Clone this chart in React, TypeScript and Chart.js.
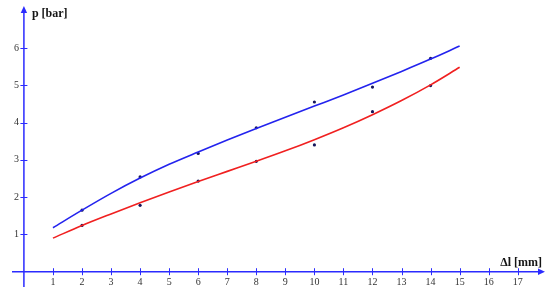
import React, { useEffect, useRef } from "react";
import { Chart, registerables } from "chart.js";

Chart.register(...registerables);

// Fitted curves
const xFit = [1, 2, 3, 4, 5, 6, 7, 8, 9, 10, 11, 12, 13, 14, 15];
const blueFit = [1.18, 1.65, 2.1, 2.51, 2.88, 3.21, 3.53, 3.84, 4.14, 4.44, 4.74, 5.05, 5.37, 5.7, 6.05];
const redFit = [0.9, 1.24, 1.55, 1.85, 2.14, 2.42, 2.69, 2.96, 3.24, 3.54, 3.86, 4.21, 4.59, 5.01, 5.48];

// Measured points
const xMeas = [2, 4, 6, 8, 10, 12, 14];
const blueMeas = [1.65, 2.54, 3.17, 3.86, 4.55, 4.95, 5.72];
const redMeas = [1.24, 1.78, 2.43, 2.96, 3.4, 4.29, 4.99];

const xTicks = [1, 2, 3, 4, 5, 6, 7, 8, 9, 10, 11, 12, 13, 14, 15, 16, 17];
const yTicks = [1, 2, 3, 4, 5, 6];
const xTitle = "Δl [mm]";
const yTitle = "p [bar]";

const AXIS = "#2b2bff";
const BLUE = "#2323ee";
const RED = "#f02020";
const DOT = "#16165c";
const SERIF = "'Liberation Serif', 'DejaVu Serif', serif";

const axesPlugin = {
  id: "customAxes",
  beforeDatasetsDraw(chart: any) {
    const { ctx } = chart;
    const x = chart.scales.x;
    const y = chart.scales.y;
    const x0 = x.getPixelForValue(0);
    const y0 = y.getPixelForValue(0);
    const left = x.left;
    const right = x.right;
    const top = y.top;
    const bottom = y.bottom;
    ctx.save();
    ctx.strokeStyle = AXIS;
    ctx.fillStyle = AXIS;
    ctx.lineWidth = 1.5;
    ctx.beginPath();
    ctx.moveTo(left, y0);
    ctx.lineTo(right - 3, y0);
    ctx.moveTo(x0, bottom);
    ctx.lineTo(x0, top + 3);
    ctx.stroke();
    // arrows
    ctx.beginPath();
    ctx.moveTo(right + 2, y0);
    ctx.lineTo(right - 5, y0 - 3.2);
    ctx.lineTo(right - 5, y0 + 3.2);
    ctx.closePath();
    ctx.fill();
    ctx.beginPath();
    ctx.moveTo(x0, top - 2);
    ctx.lineTo(x0 - 3.2, top + 5);
    ctx.lineTo(x0 + 3.2, top + 5);
    ctx.closePath();
    ctx.fill();
    // ticks
    ctx.lineWidth = 1;
    ctx.beginPath();
    for (const v of xTicks) {
      const px = Math.round(x.getPixelForValue(v)) + 0.5;
      ctx.moveTo(px, y0 - 3.5);
      ctx.lineTo(px, y0 + 3.5);
    }
    for (const v of yTicks) {
      const py = Math.round(y.getPixelForValue(v)) + 0.5;
      ctx.moveTo(x0 - 3.5, py);
      ctx.lineTo(x0 + 3.5, py);
    }
    ctx.stroke();
    // tick labels
    ctx.fillStyle = "#333333";
    ctx.font = `10px ${SERIF}`;
    ctx.textAlign = "center";
    ctx.textBaseline = "middle";
    for (const v of xTicks) {
      ctx.fillText(String(v), x.getPixelForValue(v), y0 + 11);
    }
    ctx.textAlign = "right";
    for (const v of yTicks) {
      ctx.fillText(String(v), x0 - 5, y.getPixelForValue(v));
    }
    // titles
    ctx.fillStyle = "#151515";
    ctx.font = `bold 12px ${SERIF}`;
    ctx.textBaseline = "alphabetic";
    ctx.textAlign = "left";
    ctx.fillText(yTitle, x0 + 8, top + 9);
    ctx.textAlign = "right";
    ctx.fillText(xTitle, right - 1, y0 - 6);
    ctx.restore();
  },
};

export default function App() {
  const ref = useRef<HTMLCanvasElement | null>(null);
  useEffect(() => {
    document.body.style.margin = "0";
    if (!ref.current) return;
    const pts = (xs: number[], ys: number[]) => xs.map((v, i) => ({ x: v, y: ys[i] }));
    const chart = new Chart(ref.current, {
      type: "line",
      data: {
        datasets: [
          {
            data: pts(xFit, blueFit),
            borderColor: BLUE,
            borderWidth: 1.6,
            pointRadius: 0,
            cubicInterpolationMode: "monotone",
            fill: false,
          },
          {
            data: pts(xFit, redFit),
            borderColor: RED,
            borderWidth: 1.6,
            pointRadius: 0,
            cubicInterpolationMode: "monotone",
            fill: false,
          },
          {
            data: pts(xMeas, blueMeas),
            showLine: false,
            pointRadius: 1.6,
            pointBackgroundColor: DOT,
            pointBorderColor: DOT,
            pointBorderWidth: 0,
          },
          {
            data: pts(xMeas, redMeas),
            showLine: false,
            pointRadius: 1.6,
            pointBackgroundColor: DOT,
            pointBorderColor: DOT,
            pointBorderWidth: 0,
          },
        ],
      } as any,
      options: {
        animation: false,
        responsive: false,
        layout: { padding: { left: 12, right: 7, top: 8, bottom: 9 } },
        plugins: { legend: { display: false }, tooltip: { enabled: false } },
        scales: {
          x: { type: "linear", min: -0.41, max: 17.87, display: false },
          y: { type: "linear", min: -0.41, max: 7.07, display: false },
        },
      },
      plugins: [axesPlugin],
    });
    return () => chart.destroy();
  }, []);
  return (
    <div style={{ width: 550, height: 296 }}>
      <canvas ref={ref} width={550} height={296} style={{ display: "block" }} />
    </div>
  );
}
